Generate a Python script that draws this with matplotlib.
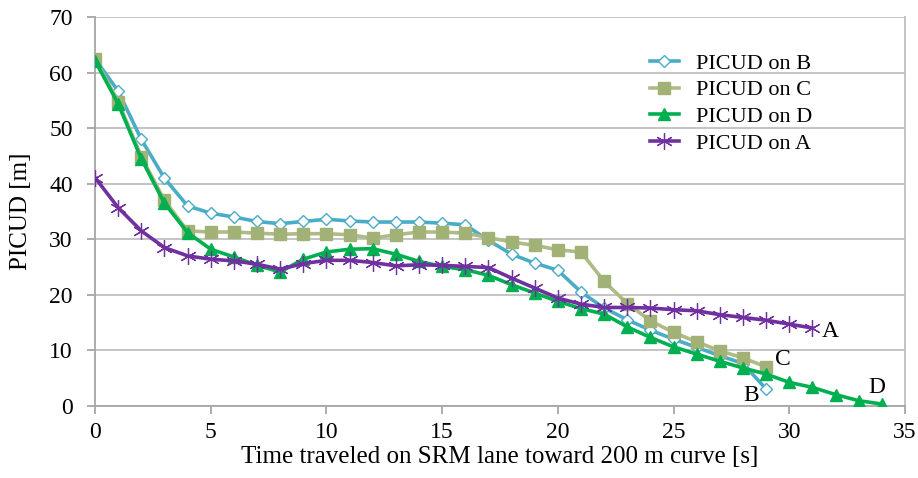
import matplotlib
matplotlib.use("Agg")
import matplotlib.pyplot as plt

t_B = list(range(0, 30))
B = [62.5, 56.7, 48.0, 41.0, 36.0, 34.7, 34.0, 33.2, 32.8, 33.2, 33.6, 33.3, 33.1, 33.1, 33.1,
     32.9, 32.6, 29.8, 27.3, 25.7, 24.4, 20.5, 17.6, 15.5, 13.6, 12.0, 10.5, 9.0, 7.6, 3.0]
t_C = list(range(0, 30))
C = [62.5, 54.8, 44.9, 37.0, 31.5, 31.3, 31.3, 31.1, 30.9, 31.0, 31.0, 30.8, 30.2, 30.8, 31.3,
     31.3, 31.1, 30.3, 29.5, 28.9, 28.1, 27.7, 22.4, 18.4, 15.3, 13.2, 11.5, 9.9, 8.6, 7.0]
t_D = list(range(0, 35))
D = [62.2, 54.4, 44.5, 36.5, 31.2, 28.2, 26.8, 25.3, 24.1, 26.4, 27.7, 28.2, 28.3, 27.3, 26.0,
     25.1, 24.5, 23.5, 21.8, 20.3, 18.8, 17.5, 16.5, 14.2, 12.3, 10.6, 9.3, 8.0, 6.8, 5.7,
     4.2, 3.3, 2.0, 0.9, 0.3]
t_A = list(range(0, 32))
A = [41.1, 35.7, 31.5, 28.5, 27.0, 26.4, 26.1, 25.5, 24.6, 25.6, 26.2, 26.2, 25.8, 25.2, 25.4,
     25.3, 25.1, 24.9, 23.0, 21.2, 19.4, 18.3, 17.7, 17.7, 17.6, 17.3, 17.1, 16.4, 15.9, 15.4,
     14.7, 14.0]

x_ticks = [0, 5, 10, 15, 20, 25, 30, 35]
y_ticks = [0, 10, 20, 30, 40, 50, 60, 70]
end_labels = [("A", 31.4, 13.4), ("B", 28.0, 1.9), ("C", 29.4, 8.4), ("D", 33.4, 3.2)]

plt.rcParams['font.family'] = ['Liberation Serif', 'DejaVu Serif']

fig = plt.figure(figsize=(9.18, 4.78), dpi=100)
ax = fig.add_axes([0.1035, 0.1513, 0.8823, 0.8125])

grid_c = '#BFBFBF'
ax.plot(t_B, B, color='#4BACC6', lw=2.6, marker='D', ms=6.5, mfc='white', mec='#4BACC6',
        mew=1.0, label='PICUD on B', zorder=3)
ax.plot(t_C, C, color='#AEBB85', lw=2.6, marker='s', ms=8.5, mfc='#A2B276', mec='#A2B276',
        label='PICUD on C', zorder=3)
ax.plot(t_D, D, color='#00B050', lw=2.6, marker='^', ms=8.5, mfc='#00B050', mec='#00B050',
        label='PICUD on D', zorder=4)
ax.plot(t_A, A, color='#7030A0', lw=2.6, marker=(6, 2, 0), ms=12, mec='#7030A0', mew=0.9,
        label='PICUD on A', zorder=5)

for txt, x, y in end_labels:
    ax.text(x, y, txt, fontsize=17, ha='left', va='center')

ax.set_xlim(0, 35)
ax.set_ylim(0, 70)
ax.set_xticks(x_ticks)
ax.set_yticks(y_ticks)
ax.yaxis.grid(True, color=grid_c, lw=1.3)
ax.set_axisbelow(True)
ax.spines['top'].set_visible(False)
ax.spines['right'].set_color(grid_c)
ax.spines['left'].set_color('#A6A6A6')
ax.spines['bottom'].set_color('#A6A6A6')
for s in ['left', 'bottom', 'right']:
    ax.spines[s].set_linewidth(1.3)
ax.tick_params(axis='both', labelsize=17, color='#A6A6A6', width=1.3, length=6)
ax.tick_params(axis='y', pad=10)
ax.tick_params(axis='x', pad=6)
ax.set_xlabel('Time traveled on SRM lane toward 200 m curve [s]', fontsize=18, labelpad=2)
ax.set_ylabel('PICUD [m]', fontsize=18, labelpad=12)

leg = ax.legend(loc='upper left', bbox_to_anchor=(650 / 918, 1 - 53 / 478),
                bbox_transform=fig.transFigure, frameon=False, fontsize=16,
                handlelength=1.3, labelspacing=0.28, handletextpad=0.75,
                borderpad=0, borderaxespad=0)

fig.savefig('out.png', dpi=100)
